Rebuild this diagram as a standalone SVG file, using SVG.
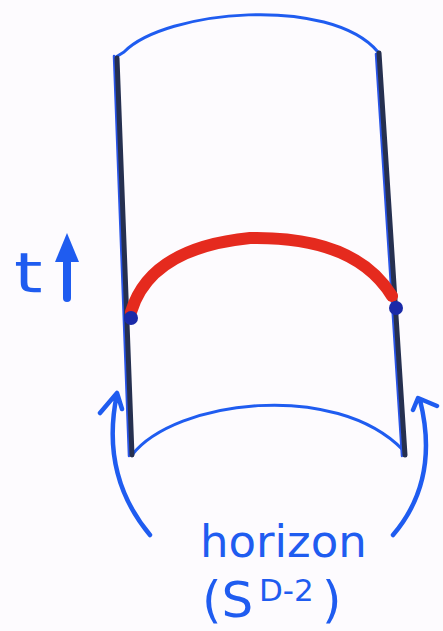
<svg xmlns="http://www.w3.org/2000/svg" width="443" height="631" viewBox="0 0 443 631">
<style>
.blue{fill:none;stroke:#1f5cf0;stroke-linecap:round;stroke-linejoin:round}
.wall{fill:none;stroke:#263050;stroke-width:5;stroke-linecap:round}
.wallEdge{fill:none;stroke:#2a55e8;stroke-width:2.5;stroke-linecap:round}
.lbl{fill:#1f5cf0;font-family:"DejaVu Sans","Liberation Sans",sans-serif}
</style>
<rect width="443" height="631" fill="#fdfbfe"/>
<g id="connectors">
  <path class="blue" stroke-width="3" d="M116,57 L124,52 C165,10 330,-5 378,52"/>
  <path class="blue" stroke-width="3" d="M132,455 C175,400 335,380 403,450"/>
  <path class="blue" stroke-width="4.5" d="M150,535 Q100,475 117,394 M100,413 L117,393 L122,409"/>
  <path class="blue" stroke-width="4.5" d="M393,535 Q440,480 420,400 M413,410 L418,398 L437,406"/>
</g>
<g id="left-wall">
  <path class="wallEdge" d="M114,56 L129,456"/>
  <path class="wall" d="M117,58 L132,455"/>
</g>
<g id="right-wall">
  <path class="wallEdge" d="M376,54 L402,456"/>
  <path class="wall" d="M379,53 L405,455"/>
</g>
<g id="slice">
  <path fill="none" stroke="#e52a1e" stroke-width="12" stroke-linecap="round" d="M131,312 Q150,248 250,238 Q355,236 392,296"/>
  <circle cx="131" cy="318" r="7" fill="#1a2aa8"/>
  <circle cx="396" cy="308" r="7" fill="#1a2aa8"/>
</g>
<g id="time-label">
  <text class="lbl" x="14" y="292" font-size="56" transform="translate(14 292) scale(1.3 1) translate(-14 -292)">t</text>
  <path class="blue" stroke-width="8" d="M67,298 L67,248"/>
  <path d="M67,233 L79,262 L55,262 Z" fill="#1f5cf0"/>
</g>
<g id="horizon-label">
  <text class="lbl" x="200" y="557" font-size="45">horizon</text>
  <text class="lbl" x="202" y="617" font-size="50">(S</text>
  <text class="lbl" x="259" y="601" font-size="31">D-2</text>
  <text class="lbl" x="322" y="617" font-size="50">)</text>
</g>
</svg>
